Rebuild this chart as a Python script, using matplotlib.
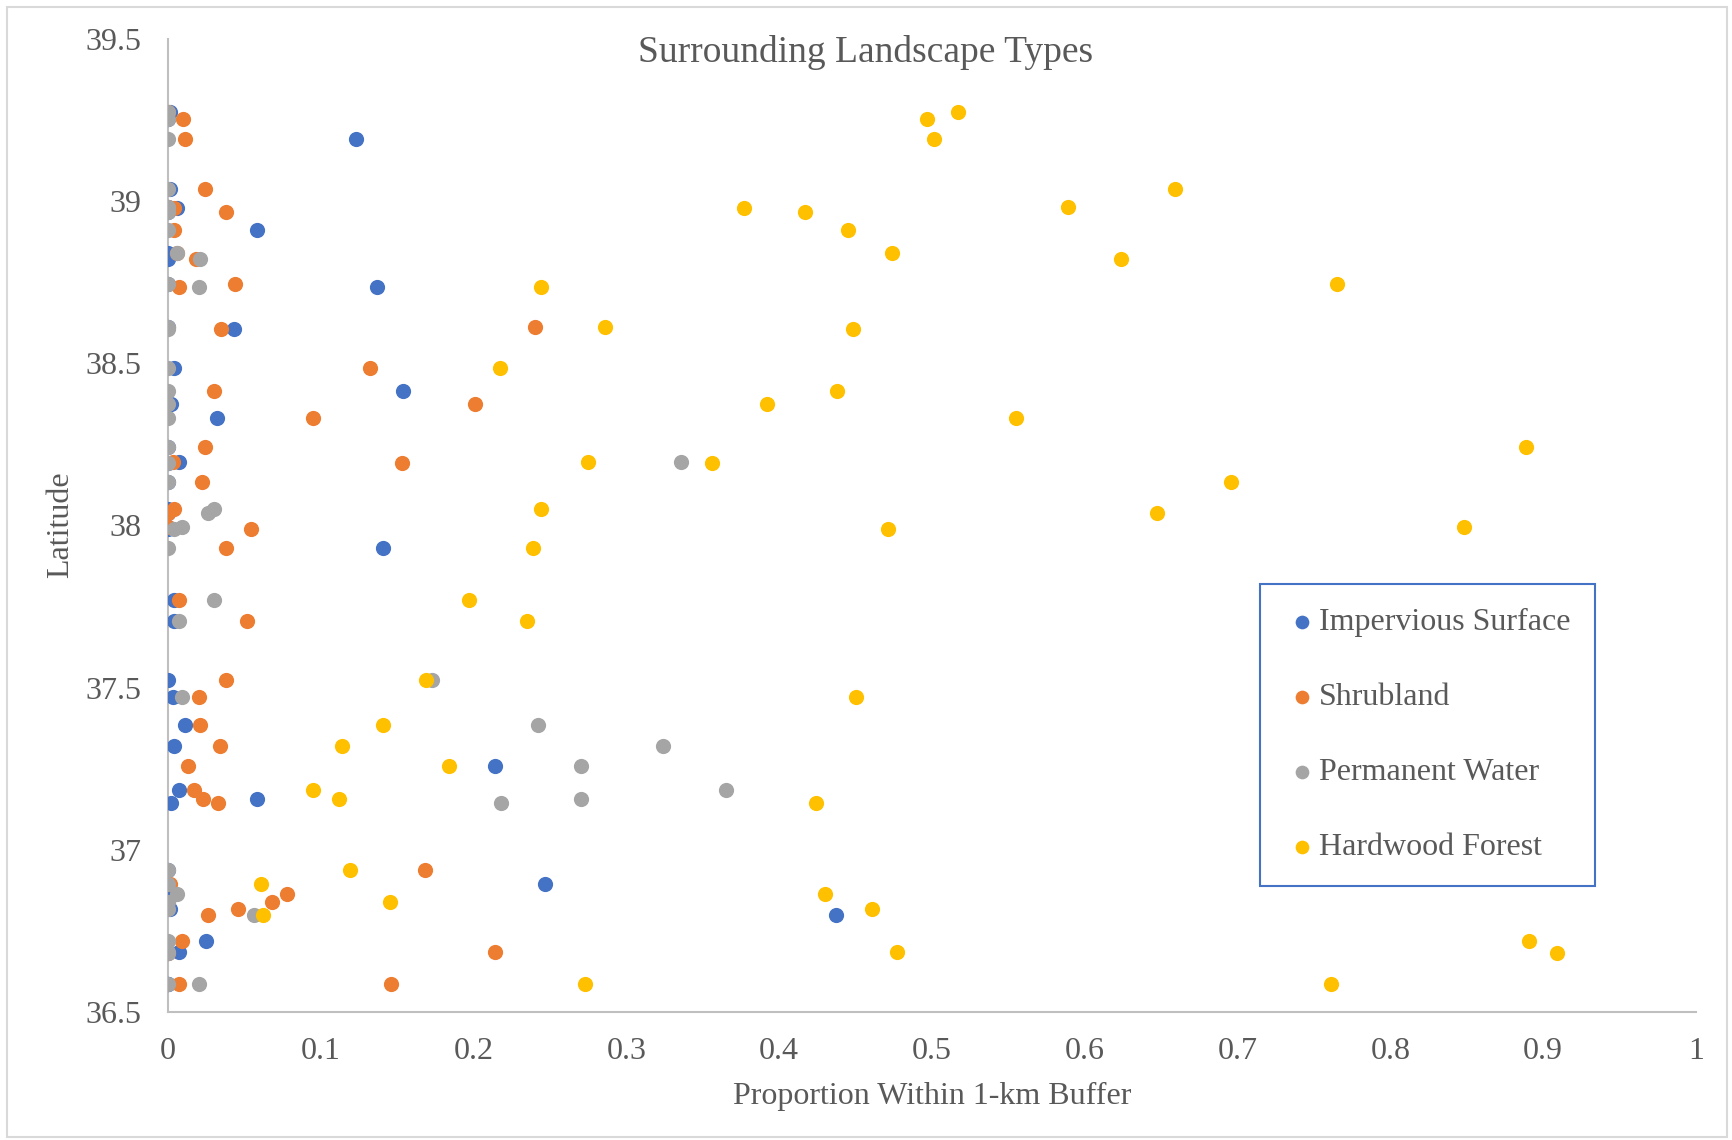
import matplotlib
matplotlib.use('Agg')
import matplotlib.pyplot as plt
from matplotlib.patches import Rectangle

plt.rcParams['font.family'] = ['Liberation Serif', 'DejaVu Serif']

# one latitude per site, four land-cover proportions per site
latitude = [39.275, 39.251, 39.190, 39.037, 38.979, 38.965, 38.982, 38.911,
            38.839, 38.822, 38.734, 38.744, 38.611, 38.604, 38.485, 38.414,
            38.373, 38.332, 38.243, 38.196, 38.192, 38.135, 38.049, 38.039,
            37.988, 37.995, 37.930, 37.770, 37.705, 37.522, 37.470, 37.385,
            37.321, 37.259, 37.185, 37.157, 37.144, 36.939, 36.895, 36.864,
            36.840, 36.817, 36.800, 36.684, 36.718, 36.681, 36.585, 36.585]

impervious = [0.001, 0.0, 0.123, 0.001, 0.006, 0.0, 0.0, 0.058,
              0.0, 0.0, 0.137, 0.0, 0.0, 0.043, 0.004, 0.154,
              0.002, 0.032, 0.0, 0.007, 0.0, 0.0, 0.0, 0.0,
              0.0, 0.0, 0.141, 0.004, 0.004, 0.0, 0.003, 0.011,
              0.004, 0.214, 0.007, 0.058, 0.002, 0.0, 0.247, 0.0,
              0.0, 0.001, 0.437, 0.007, 0.025, 0.0, 0.0, 0.0]

shrubland = [0.0, 0.010, 0.011, 0.024, 0.004, 0.038, 0.0, 0.004,
             0.006, 0.018, 0.007, 0.044, 0.240, 0.035, 0.132, 0.030,
             0.201, 0.095, 0.024, 0.003, 0.153, 0.022, 0.004, 0.0,
             0.054, 0.0, 0.038, 0.007, 0.052, 0.038, 0.020, 0.021,
             0.034, 0.013, 0.017, 0.023, 0.033, 0.168, 0.001, 0.078,
             0.068, 0.046, 0.026, 0.214, 0.009, 0.0, 0.146, 0.007]

water = [0.0, 0.0, 0.0, 0.0, 0.0, 0.0, 0.0, 0.0,
         0.006, 0.021, 0.020, 0.0, 0.0, 0.0, 0.0, 0.0,
         0.0, 0.0, 0.0, 0.336, 0.0, 0.0, 0.030, 0.026,
         0.004, 0.009, 0.0, 0.030, 0.007, 0.173, 0.009, 0.242,
         0.324, 0.270, 0.365, 0.270, 0.218, 0.0, 0.0, 0.006,
         0.0, 0.0, 0.056, 0.0, 0.0, 0.0, 0.0, 0.020]

hardwood = [0.517, 0.497, 0.501, 0.659, 0.377, 0.417, 0.589, 0.445,
            0.474, 0.624, 0.244, 0.765, 0.286, 0.448, 0.217, 0.438,
            0.392, 0.555, 0.889, 0.275, 0.356, 0.696, 0.244, 0.647,
            0.471, 0.848, 0.239, 0.197, 0.235, 0.169, 0.450, 0.141,
            0.114, 0.184, 0.095, 0.112, 0.424, 0.119, 0.061, 0.430,
            0.145, 0.461, 0.062, 0.477, 0.891, 0.909, 0.273, 0.761]

series = [('Impervious Surface', impervious, '#4472C4'),
          ('Shrubland', shrubland, '#ED7D31'),
          ('Permanent Water', water, '#A5A5A5'),
          ('Hardwood Forest', hardwood, '#FFC000')]

xticks = [0, 0.1, 0.2, 0.3, 0.4, 0.5, 0.6, 0.7, 0.8, 0.9, 1]
xticklabels = ['0', '0.1', '0.2', '0.3', '0.4', '0.5', '0.6', '0.7', '0.8', '0.9', '1']
yticks = [36.5, 37, 37.5, 38, 38.5, 39, 39.5]
yticklabels = ['36.5', '37', '37.5', '38', '38.5', '39', '39.5']

W, H = 1732, 1140
fig = plt.figure(figsize=(W / 100, H / 100), dpi=100)
ax = fig.add_axes([168 / W, 1 - 1012 / H, (1696 - 168) / W, (1012 - 38.7) / H])

for name, vals, color in series:
    ax.scatter(vals, latitude, s=120, color=color, label=name, linewidths=0, zorder=3)

ax.set_xlim(0, 1)
ax.set_ylim(36.5, 39.5)
ax.set_xticks(xticks)
ax.set_xticklabels(xticklabels)
ax.set_yticks(yticks)
ax.set_yticklabels(yticklabels)
ax.tick_params(length=0, labelsize=23, labelcolor='#595959')
ax.tick_params(axis='x', pad=18)
ax.tick_params(axis='y', pad=19)
for s in ['top', 'right']:
    ax.spines[s].set_visible(False)
for s in ['left', 'bottom']:
    ax.spines[s].set_color('#BFBFBF')
    ax.spines[s].set_linewidth(1.5)

ax.set_xlabel('Proportion Within 1-km Buffer', fontsize=23, color='#595959', va='center')
ax.xaxis.set_label_coords(0.5, 1 - 1096 / H, transform=fig.transFigure)
ax.set_ylabel('Latitude', fontsize=23, color='#595959', va='center')
ax.yaxis.set_label_coords(61 / W, 1 - 525 / H, transform=fig.transFigure)
ax.xaxis.set_label_coords((168 + 1696) / 2 / W, 1 - 1096 / H, transform=fig.transFigure)
fig.text(0.5, 1 - 53 / H, 'Surrounding Landscape Types', ha='center', va='center',
         fontsize=27, color='#595959')

leg = ax.legend(loc='upper left', bbox_to_anchor=(1260 / W, 1 - 584 / H),
                bbox_transform=fig.transFigure, borderaxespad=0, fontsize=23,
                labelspacing=1.43, handletextpad=0.0, borderpad=0.75,
                markerscale=0.9, handlelength=1.1, fancybox=False, framealpha=1)
leg.get_frame().set_edgecolor('#4472C4')
leg.get_frame().set_linewidth(1.5)
for t in leg.get_texts():
    t.set_color('#595959')

fig.patches.append(Rectangle((7 / W, 3 / H), 1720 / W, 1 - 10 / H, transform=fig.transFigure,
                             fill=False, edgecolor='#D9D9D9', linewidth=1.5))

fig.savefig('out.png', dpi=100)
